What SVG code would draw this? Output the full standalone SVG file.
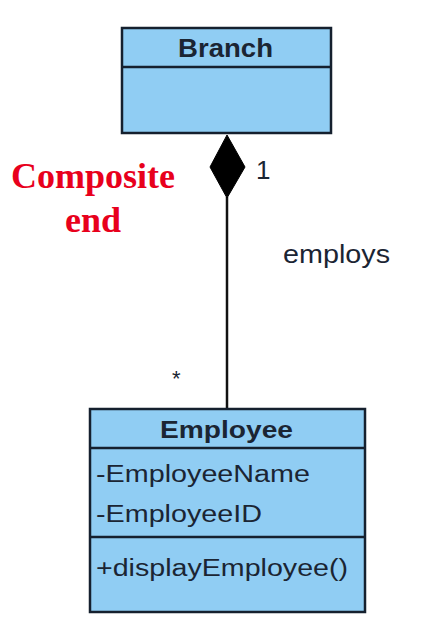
<svg xmlns="http://www.w3.org/2000/svg" width="439" height="625" viewBox="0 0 439 625">
<style>
.box{fill:#90CDF3;stroke:#15202e;stroke-width:2.5}
.div{stroke:#15202e;stroke-width:2.5}
.t{font-family:"Liberation Sans",Arial,sans-serif;fill:#1b2533}
.b{font-weight:bold}
.red{font-family:"Liberation Serif","Times New Roman",serif;font-weight:bold;fill:#e8001c;font-size:36px}
</style>
<rect width="439" height="625" fill="#ffffff"/>
<g id="connectors">
<line x1="227" y1="197" x2="227" y2="410" stroke="#111" stroke-width="2.5"/>
<polygon points="227,135 245,167 227,198 210,167" fill="#000" stroke="#000" stroke-width="1"/>
<text class="t" x="256" y="179" font-size="26" fill="#222">1</text>
<text class="t" x="283" y="263" font-size="25" textLength="107" lengthAdjust="spacingAndGlyphs" fill="#333">employs</text>
<text class="t" x="172" y="386" font-size="22" fill="#333">*</text>
</g>
<g id="branch">
<rect class="box" x="122" y="28" width="209" height="105"/>
<line class="div" x1="122" y1="67" x2="331" y2="67"/>
<text class="t b" x="178" y="57" font-size="25" textLength="95" lengthAdjust="spacingAndGlyphs">Branch</text>
</g>
<g id="employee">
<rect class="box" x="90" y="409" width="275" height="203"/>
<line class="div" x1="90" y1="448" x2="365" y2="448"/>
<line class="div" x1="90" y1="537" x2="365" y2="537"/>
<text class="t b" x="160" y="438" font-size="24" textLength="133" lengthAdjust="spacingAndGlyphs">Employee</text>
<text class="t" x="96" y="482" font-size="23" textLength="214" lengthAdjust="spacingAndGlyphs">-EmployeeName</text>
<text class="t" x="96" y="522" font-size="23" textLength="166" lengthAdjust="spacingAndGlyphs">-EmployeeID</text>
<text class="t" x="96" y="576" font-size="23" textLength="252" lengthAdjust="spacingAndGlyphs">+displayEmployee()</text>
</g>
<g id="label">
<text class="red" x="93" y="188" text-anchor="middle">Composite</text>
<text class="red" x="93" y="232" text-anchor="middle">end</text>
</g>
</svg>
